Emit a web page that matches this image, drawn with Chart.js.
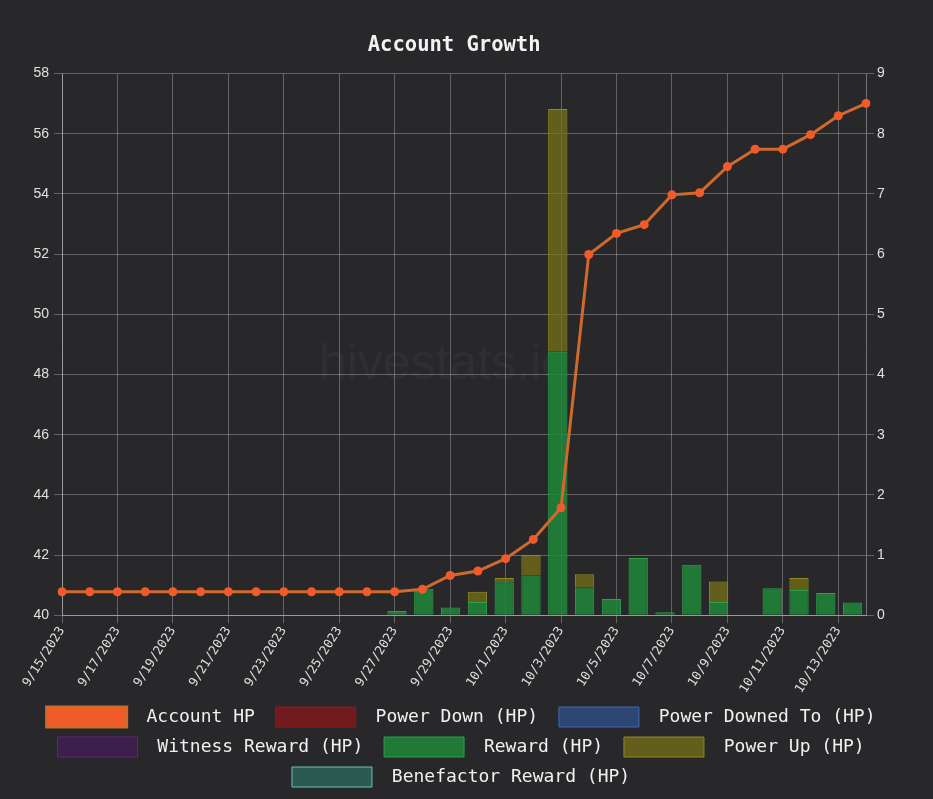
<!DOCTYPE html>
<html>
<head>
<meta charset="utf-8">
<script src="https://cdn.jsdelivr.net/npm/chart.js@4.4.0/dist/chart.umd.min.js"></script>
<style>
  html, body { margin: 0; padding: 0; background: #28282b; }
  #wrap { width: 933px; height: 799px; }
</style>
</head>
<body>
<div id="wrap"><canvas id="growth"></canvas></div>
<script>
// dates on the x axis
const days = ['9/15/2023','9/16/2023','9/17/2023','9/18/2023','9/19/2023','9/20/2023','9/21/2023','9/22/2023',
  '9/23/2023','9/24/2023','9/25/2023','9/26/2023','9/27/2023','9/28/2023','9/29/2023','9/30/2023',
  '10/1/2023','10/2/2023','10/3/2023','10/4/2023','10/5/2023','10/6/2023','10/7/2023','10/8/2023',
  '10/9/2023','10/10/2023','10/11/2023','10/12/2023','10/13/2023','10/14/2023'];

// account HP (left axis)
const accountHP = [40.78,40.78,40.78,40.78,40.78,40.78,40.78,40.78,40.78,40.78,40.78,40.78,40.78,40.86,41.32,41.47,
  41.88,42.52,43.57,51.99,52.69,52.98,53.97,54.04,54.91,55.49,55.49,55.97,56.6,57.01];

// daily movements (right axis)
const rewardHP = [0,0,0,0,0,0,0,0,0,0,0,0,0.07,0.44,0.13,0.22,0.55,0.66,4.38,0.46,0.27,0.95,0.05,0.84,0.22,0.01,0.45,0.42,0.37,0.21];
const powerUpHP = [0,0,0,0,0,0,0,0,0,0,0,0,0,0,0,0.17,0.07,0.34,4.03,0.22,0,0,0,0,0.34,0,0,0.2,0,0];
const powerDownHP = [];
const powerDownedToHP = [];
const witnessRewardHP = [];
const benefactorRewardHP = [];

const mono = '"DejaVu Sans Mono", "Liberation Mono", monospace';

const watermark = {
  id: 'watermark',
  beforeDatasetsDraw(chart) {
    const {ctx, chartArea} = chart;
    ctx.save();
    ctx.font = '50px "Liberation Sans", Arial, sans-serif';
    ctx.fillStyle = 'rgba(255,255,255,0.035)';
    ctx.textAlign = 'center';
    ctx.textBaseline = 'middle';
    ctx.fillText('hivestats.io', (chartArea.left + chartArea.right) / 2 - 20, chartArea.top + 292);
    ctx.restore();
  }
};

function barSet(label, data, fill, line) {
  return {
    type: 'bar', label: label, data: data, yAxisID: 'mv', xAxisID: 'xb', stack: 's', grouped: false,
    backgroundColor: fill, borderColor: line, borderWidth: 1, order: 1
  };
}

let ctx = document.getElementById('growth').getContext('2d');
let myChart = new Chart(ctx, {
  data: {
    labels: days,
    datasets: [
      {
        type: 'line', label: 'Account HP', data: accountHP, yAxisID: 'hp', xAxisID: 'x',
        borderColor: '#d0692c', backgroundColor: '#f15a29', borderWidth: 3,
        pointRadius: 4.5, pointBackgroundColor: '#f15a29', pointBorderWidth: 0, order: 0
      },
      barSet('Power Down (HP)', powerDownHP, 'rgba(122,26,30,0.9)', '#8b1a1e'),
      barSet('Power Downed To (HP)', powerDownedToHP, 'rgba(45,74,122,0.9)', '#3a6ab8'),
      barSet('Witness Reward (HP)', witnessRewardHP, 'rgba(62,30,80,0.9)', '#5a2a6e'),
      barSet('Reward (HP)', rewardHP, 'rgba(32,135,58,0.85)', '#2ea04a'),
      barSet('Power Up (HP)', powerUpHP, 'rgba(120,112,25,0.75)', '#908a22'),
      barSet('Benefactor Reward (HP)', benefactorRewardHP, 'rgba(46,94,88,0.9)', '#6cc4b4')
    ]
  },
  options: {
    responsive: true,
    maintainAspectRatio: false,
    animation: false,
    layout: { padding: { left: 0, right: 0, top: 19, bottom: 2 } },
    plugins: {
      title: {
        display: true, text: 'Account Growth  ', color: '#f2f2f2',
        font: { family: mono, size: 20.5, weight: 'bold' }, padding: { top: 14, bottom: 16 }
      },
      legend: {
        position: 'bottom',
        labels: {
          color: '#f0f0f0', boxWidth: 80, boxHeight: 20, padding: 10,
          font: { family: mono, size: 18 },
          generateLabels: function (chart) {
            const items = Chart.defaults.plugins.legend.labels.generateLabels(chart);
            items.forEach(function (it) { it.text = ' ' + it.text + ' '; });
            return items;
          }
        }
      },
      tooltip: { enabled: false }
    },
    scales: {
      x: {
        type: 'category', offset: false,
        grid: { color: 'rgba(255,255,255,0.28)', tickLength: 8 },
        border: { color: 'rgba(255,255,255,0.35)' },
        ticks: {
          color: '#e0e0e0', font: { family: mono, size: 12.5 }, autoSkip: false,
          maxRotation: 58, minRotation: 58, padding: 1,
          callback: function (v, i) { return i % 2 === 0 ? days[i] : null; }
        }
      },
      xb: { type: 'category', offset: true, display: false, stacked: true, grid: { display: false } },
      hp: {
        type: 'linear', position: 'left', min: 40, max: 58,
        afterFit: function (scale) { scale.width = 62; },
        grid: { color: 'rgba(255,255,255,0.28)', tickLength: 8 },
        border: { color: 'rgba(255,255,255,0.35)' },
        ticks: { stepSize: 2, color: '#e0e0e0', font: { size: 14 }, padding: 5 }
      },
      mv: {
        type: 'linear', position: 'right', min: 0, max: 9, stacked: true,
        afterFit: function (scale) { scale.width = 67; },
        grid: { drawOnChartArea: false, color: 'rgba(255,255,255,0.28)', tickLength: 8 },
        border: { color: 'rgba(255,255,255,0.35)' },
        ticks: { stepSize: 1, color: '#e0e0e0', font: { size: 14 } }
      }
    }
  },
  plugins: [watermark]
});
</script>
</body>
</html>
